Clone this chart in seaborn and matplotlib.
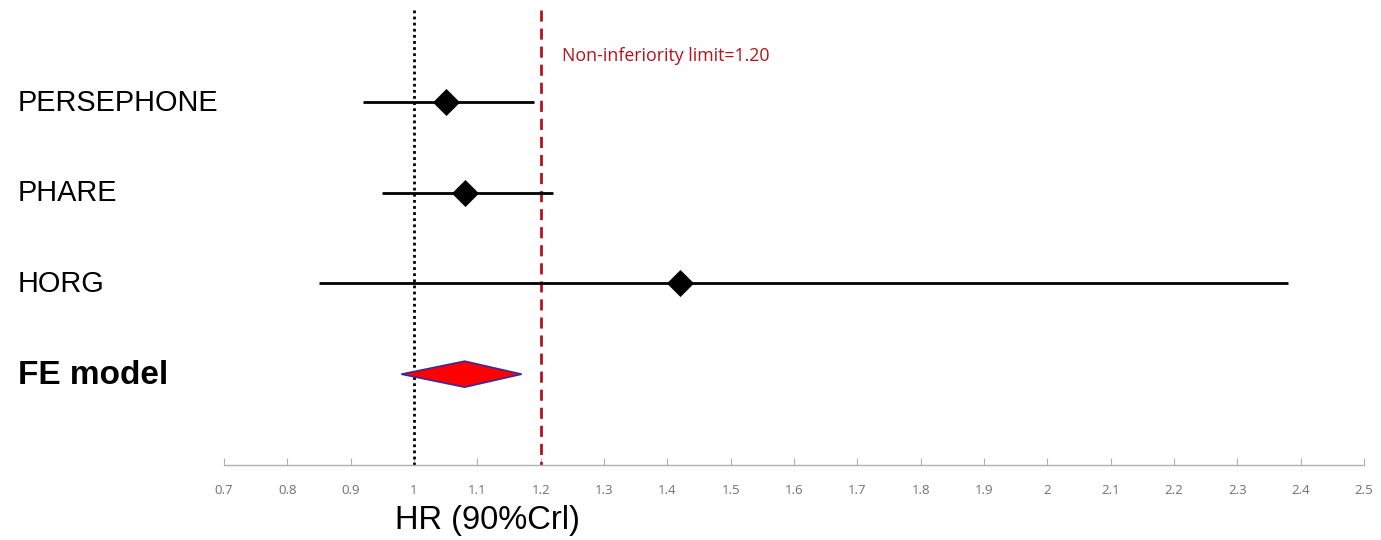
import matplotlib
matplotlib.use("Agg")
import matplotlib.pyplot as plt
import matplotlib.transforms as mtransforms
from matplotlib.patches import Polygon
import seaborn as sns
import pandas as pd

# ---- data ----
studies = ["PERSEPHONE", "PHARE", "HORG"]
hr = [1.05, 1.08, 1.42]
ci_low = [0.92, 0.95, 0.85]
ci_high = [1.19, 1.22, 2.38]

pooled_label = "FE model"
pooled_hr = 1.08
pooled_low = 0.98
pooled_high = 1.17

ref_line = 1.0
ni_limit = 1.20
ni_text = "Non-inferiority limit=1.20"
xticks = [0.7, 0.8, 0.9, 1.0, 1.1, 1.2, 1.3, 1.4, 1.5, 1.6, 1.7, 1.8, 1.9, 2.0, 2.1, 2.2, 2.3, 2.4, 2.5]
xticklabels = ["0.7", "0.8", "0.9", "1", "1.1", "1.2", "1.3", "1.4", "1.5", "1.6", "1.7", "1.8", "1.9",
               "2", "2.1", "2.2", "2.3", "2.4", "2.5"]
xlabel = "HR (90%Crl)"

sns.set_theme(style="white")
plt.rcParams["font.family"] = ["Liberation Sans", "DejaVu Sans"]

df = pd.DataFrame({"study": studies, "hr": hr, "lo": ci_low, "hi": ci_high, "row": range(len(studies))})

fig = plt.figure(figsize=(13.81, 5.40), dpi=100)
ax = fig.add_axes([224 / 1381, 1 - 465 / 540, 1140 / 1381, 465 / 540])

# CI lines
ax.hlines(df["row"], df["lo"], df["hi"], color="black", lw=2, zorder=3)
# point estimates
sns.scatterplot(data=df, x="hr", y="row", marker="D", s=190, color="black",
                edgecolor="black", linewidth=0, ax=ax, zorder=4, legend=False)

# pooled diamond
prow = len(studies)
h = 0.143
diamond = Polygon([[pooled_low, prow], [pooled_hr, prow - h], [pooled_high, prow], [pooled_hr, prow + h]],
                  closed=True, facecolor="#ff0000", edgecolor="#3a2a9a", lw=1.2, zorder=4)
ax.add_patch(diamond)

# reference lines
ax.vlines(ref_line, -1.01, 4.0, color="black", lw=2, linestyles=(0, (1, 1.2)), zorder=2)
ax.vlines(ni_limit, -1.01, 4.0, color="#b5121b", lw=2, linestyles=(0, (4, 2.5)), zorder=2)
ax.text(ni_limit + 0.033, -0.5, ni_text, color="#b5121b", fontsize=12.8, va="center", ha="left",
        family=["Open Sans", "DejaVu Sans"])

ax.set_xlim(0.7, 2.5)
ax.set_ylim(4.0, -1.12)

# study labels
trans = mtransforms.blended_transform_factory(fig.transFigure, ax.transData)
for i, s in enumerate(studies):
    ax.text(18 / 1381, i + 0.01, s, transform=trans, fontsize=20.8, va="center", ha="left", color="black")
ax.text(18 / 1381, prow + 0.01, pooled_label, transform=trans, fontsize=24, fontweight="bold",
        va="center", ha="left", color="black")

# axes styling
for side in ["top", "right", "left"]:
    ax.spines[side].set_visible(False)
ax.spines["bottom"].set_color("#b0b0b0")
ax.spines["bottom"].set_linewidth(1)
ax.set_yticks([])
ax.set_ylabel("")
ax.set_xticks(xticks)
ax.set_xticklabels(xticklabels, fontsize=9.5, color="#707070", family=["Open Sans", "DejaVu Sans"])
ax.tick_params(axis="x", direction="in", length=5, width=0.8, color="#b0b0b0", pad=14, bottom=True)
ax.set_xlabel("")
fig.text(487 / 1381, 1 - 520 / 540, xlabel, fontsize=23.5, ha="center", va="center", color="black")

fig.savefig("out.png", dpi=100)
